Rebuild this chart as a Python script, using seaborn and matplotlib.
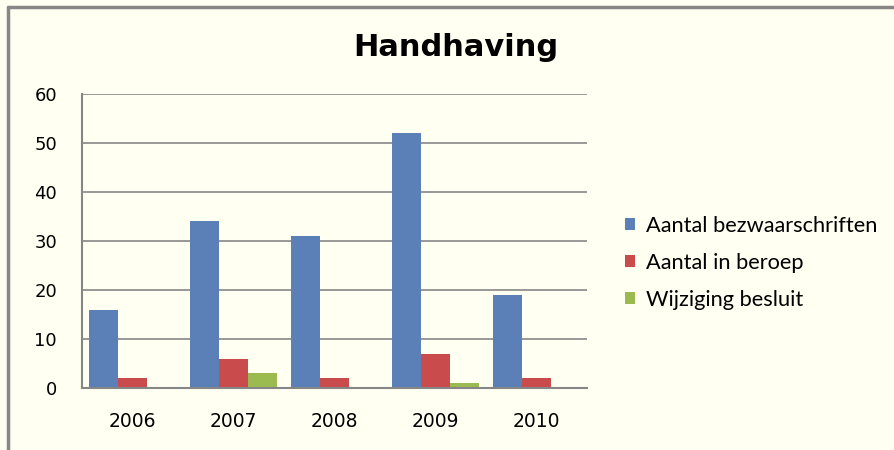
import pandas as pd
import matplotlib
matplotlib.use('Agg')
import matplotlib.pyplot as plt
from matplotlib.lines import Line2D
import seaborn as sns

years = ['2006', '2007', '2008', '2009', '2010']
series = ['Aantal bezwaarschriften', 'Aantal in beroep', 'Wijziging besluit']
bezwaar = [16, 34, 31, 52, 19]
beroep = [2, 6, 2, 7, 2]
wijziging = [0, 3, 0, 1, 0]
colors = ['#5b80b8', '#c94b4b', '#9bbb50']

rows = []
for name, vals in zip(series, [bezwaar, beroep, wijziging]):
    for y, v in zip(years, vals):
        rows.append({'year': y, 'series': name, 'value': v})
df = pd.DataFrame(rows)

sns.set_style('white')
plt.rcParams['font.family'] = ['DejaVu Sans']
bg = '#fffff2'

fig = plt.figure(figsize=(8.94, 4.5), dpi=100, facecolor=bg)
ax = fig.add_axes([82 / 894, 62 / 450, 505 / 894, 294 / 450])
ax.set_facecolor(bg)

sns.barplot(data=df, x='year', y='value', hue='series', palette=colors,
            width=0.86, saturation=1, linewidth=0, gap=0, ax=ax)

ax.set_xlim(-0.5, 4.5)
ax.set_ylim(0, 60)
ax.set_yticks(range(0, 61, 10))
ax.yaxis.grid(True, color='#868686', linewidth=1.2)
ax.set_axisbelow(True)
for s in ['top', 'right']:
    ax.spines[s].set_visible(False)
for s in ['left', 'bottom']:
    ax.spines[s].set_color('#868686')
    ax.spines[s].set_linewidth(1.5)
ax.tick_params(axis='y', length=0, pad=18, labelsize=13, labelcolor='black')
ax.tick_params(axis='x', length=0, pad=17, labelsize=13.5, labelcolor='black')
ax.set_xlabel('')
ax.set_ylabel('')

handles, labels = ax.get_legend_handles_labels()
ax.legend(handles, labels, loc='center left', bbox_to_anchor=(625 / 894, 1 - 263 / 450),
          bbox_transform=fig.transFigure, frameon=False, borderpad=0, borderaxespad=0,
          handlelength=0.46, handleheight=0.46, handletextpad=0.5,
          labelspacing=0.78, labelcolor='black', prop={'family': 'Lato', 'size': 15.7})

fig.text(0.51, 1 - 47 / 450, 'Handhaving', ha='center', va='center',
         fontsize=22, fontweight='bold', color='black')

# frame lines on top and left
fig.add_artist(Line2D([8 / 894, 1], [1 - 7 / 450, 1 - 7 / 450], color='#878787',
                      linewidth=2.5, transform=fig.transFigure))
fig.add_artist(Line2D([8 / 894, 8 / 894], [0, 1 - 7 / 450], color='#878787',
                      linewidth=2.5, transform=fig.transFigure))

fig.savefig('out.png', dpi=100, facecolor=bg)
